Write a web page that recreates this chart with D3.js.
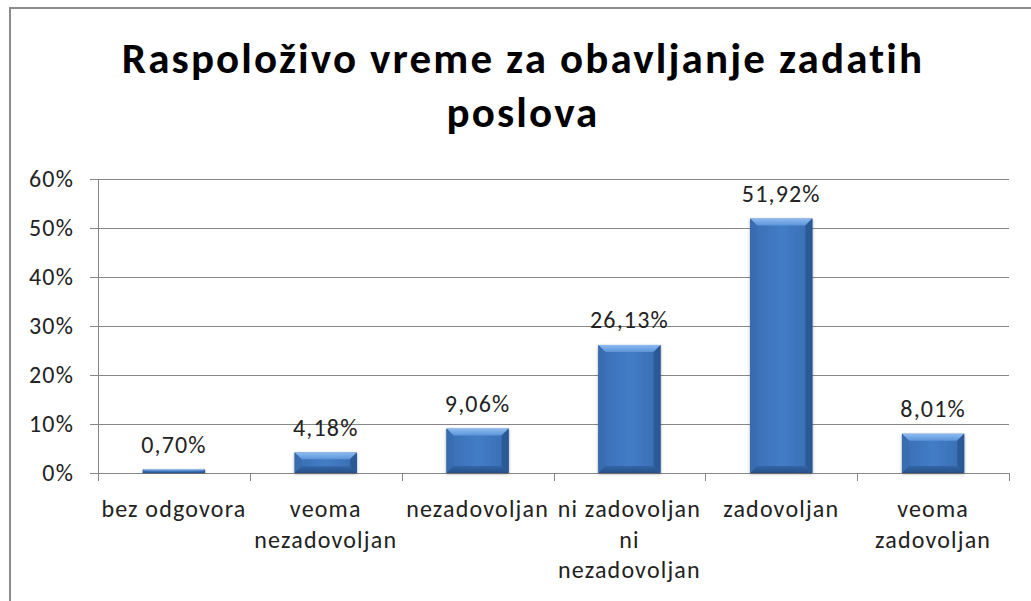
<!DOCTYPE html>
<html>
<head>
<meta charset="utf-8">
<script src="https://cdn.jsdelivr.net/npm/d3@7"></script>
<style>
  html, body { margin: 0; padding: 0; background: #ffffff; }
  svg { display: block; }
  text { font-family: Carlito, Calibri, Lato, "Open Sans", sans-serif; }
</style>
</head>
<body>
<svg id="chart" width="1031" height="601"></svg>
<script>
// ---- data ----
const titleLines = ["Raspoloživo vreme za obavljanje zadatih", "poslova"];
const categories = ["bez odgovora", "veoma nezadovoljan", "nezadovoljan", "ni zadovoljan ni nezadovoljan", "zadovoljan", "veoma zadovoljan"];
const categoryLines = [["bez odgovora"], ["veoma", "nezadovoljan"], ["nezadovoljan"], ["ni zadovoljan", "ni", "nezadovoljan"], ["zadovoljan"], ["veoma", "zadovoljan"]];
const values = [0.0070, 0.0418, 0.0906, 0.2613, 0.5192, 0.0801];
const valueLabels = ["0,70%", "4,18%", "9,06%", "26,13%", "51,92%", "8,01%"];
const yTicks = [0, 0.1, 0.2, 0.3, 0.4, 0.5, 0.6];
const yTickLabels = ["0%", "10%", "20%", "30%", "40%", "50%", "60%"];

// ---- layout ----
const svg = d3.select("#chart");
const pLeft = 98, pRight = 1009, pTop = 179, pBottom = 473;
const textColor = "#222222";
const gridColor = "#878787";
const labelSize = 24;

// letter-spacing so a reference string reaches the width measured in the original
function spacingFor(size, weight, str, target) {
  const t = svg.append("text").attr("font-size", size).attr("font-weight", weight).text(str);
  const w = t.node().getComputedTextLength();
  t.remove();
  return Math.max(0, (target - w) / str.length);
}
const lsLabel = spacingFor(labelSize, "normal", "bez odgovora", 145);
const lsTitle = spacingFor(43, "bold", titleLines[0], 802);

// chart outer border (extends past the window on right/bottom)
svg.append("rect")
  .attr("x", 10).attr("y", 8).attr("width", 1040).attr("height", 620)
  .attr("fill", "#ffffff").attr("stroke", "#8c8c8c").attr("stroke-width", 2);

const x = d3.scaleBand().domain(categories).range([pLeft, pRight])
  .paddingInner(0.59).paddingOuter(0.295);
const y = d3.scaleLinear().domain([0, 0.6]).range([pBottom, pTop]);

// defs: gradients & shadow
const defs = svg.append("defs");
const gBody = defs.append("linearGradient").attr("id", "gBody").attr("x1", 0).attr("x2", 1).attr("y1", 0).attr("y2", 0);
[[0, "#2d5c9a"], [0.12, "#3b71b7"], [0.5, "#437dc5"], [0.88, "#3b71b7"], [1, "#2d5c9a"]]
  .forEach(([o, c]) => gBody.append("stop").attr("offset", o).attr("stop-color", c));
const gTop = defs.append("linearGradient").attr("id", "gTop").attr("x1", 0).attr("x2", 0).attr("y1", 0).attr("y2", 1);
[[0, "#8dbaf0"], [1, "#5c94d9"]].forEach(([o, c]) => gTop.append("stop").attr("offset", o).attr("stop-color", c));
const gBot = defs.append("linearGradient").attr("id", "gBot").attr("x1", 0).attr("x2", 0).attr("y1", 0).attr("y2", 1);
[[0, "#3366a6"], [1, "#264f88"]].forEach(([o, c]) => gBot.append("stop").attr("offset", o).attr("stop-color", c));
const shadow = defs.append("filter").attr("id", "shadow").attr("x", "-20%").attr("y", "-20%").attr("width", "140%").attr("height", "140%");
shadow.append("feDropShadow").attr("dx", 0).attr("dy", 1).attr("stdDeviation", 1.5)
  .attr("flood-color", "#000").attr("flood-opacity", 0.35);

// gridlines
svg.append("g").selectAll("line").data(yTicks).join("line")
  .attr("x1", pLeft - 8).attr("x2", pRight)
  .attr("y1", d => Math.round(y(d)) + 0.5).attr("y2", d => Math.round(y(d)) + 0.5)
  .attr("stroke", gridColor).attr("stroke-width", 1);

// y axis line
svg.append("line").attr("x1", pLeft + 0.5).attr("x2", pLeft + 0.5)
  .attr("y1", pTop).attr("y2", pBottom).attr("stroke", gridColor);

// y tick labels
svg.append("g").selectAll("text").data(yTicks).join("text")
  .attr("x", 74).attr("y", d => y(d)).attr("dy", "0.35em")
  .attr("text-anchor", "end").attr("font-size", labelSize).attr("fill", textColor)
  .attr("letter-spacing", lsLabel)
  .text((d, i) => yTickLabels[i]);

// x category boundary ticks
const step = x.step();
svg.append("g").selectAll("line").data(d3.range(categories.length + 1)).join("line")
  .attr("x1", i => Math.round(pLeft + i * step) + 0.5).attr("x2", i => Math.round(pLeft + i * step) + 0.5)
  .attr("y1", pBottom).attr("y2", pBottom + 8)
  .attr("stroke", gridColor);

// bars
const bars = svg.append("g").selectAll("g").data(values).join("g")
  .attr("filter", "url(#shadow)");
bars.each(function (v, i) {
  const g = d3.select(this);
  const bx = x(categories[i]), bw = x.bandwidth();
  const by = y(v), bh = y(0) - y(v);
  const b = Math.min(7, bh / 3);
  g.append("rect").attr("x", bx).attr("y", by).attr("width", bw).attr("height", bh).attr("fill", "url(#gBody)");
  g.append("polygon").attr("points", [[bx, by], [bx + bw, by], [bx + bw - b, by + b], [bx + b, by + b]].join(" "))
    .attr("fill", "url(#gTop)");
  g.append("polygon").attr("points", [[bx, by], [bx + b, by + b], [bx + b, by + bh - b], [bx, by + bh]].join(" "))
    .attr("fill", "#3a6eb2").attr("opacity", 0.9);
  g.append("polygon").attr("points", [[bx + bw, by], [bx + bw - b, by + b], [bx + bw - b, by + bh - b], [bx + bw, by + bh]].join(" "))
    .attr("fill", "#2b5995").attr("opacity", 0.9);
  g.append("polygon").attr("points", [[bx, by + bh], [bx + b, by + bh - b], [bx + bw - b, by + bh - b], [bx + bw, by + bh]].join(" "))
    .attr("fill", "url(#gBot)");
});

// value labels
svg.append("g").selectAll("text").data(values).join("text")
  .attr("x", (d, i) => x(categories[i]) + x.bandwidth() / 2)
  .attr("y", d => y(d) - 17)
  .attr("text-anchor", "middle").attr("font-size", labelSize).attr("fill", textColor)
  .attr("letter-spacing", lsLabel)
  .text((d, i) => valueLabels[i]);

// category labels
const cat = svg.append("g").selectAll("text").data(categories).join("text")
  .attr("text-anchor", "middle").attr("font-size", labelSize).attr("fill", textColor)
  .attr("letter-spacing", lsLabel);
cat.each(function (c, i) {
  const t = d3.select(this);
  const cx = x(c) + x.bandwidth() / 2;
  categoryLines[i].forEach((ln, k) => {
    t.append("tspan").attr("x", cx).attr("y", 517 + k * 30.5).text(ln);
  });
});

// title
const title = svg.append("text").attr("text-anchor", "middle")
  .attr("font-weight", "bold").attr("font-size", 43).attr("fill", "#000")
  .attr("letter-spacing", lsTitle);
titleLines.forEach((ln, k) => {
  title.append("tspan").attr("x", 523).attr("y", 73 + k * 54).text(ln);
});
</script>
</body>
</html>
